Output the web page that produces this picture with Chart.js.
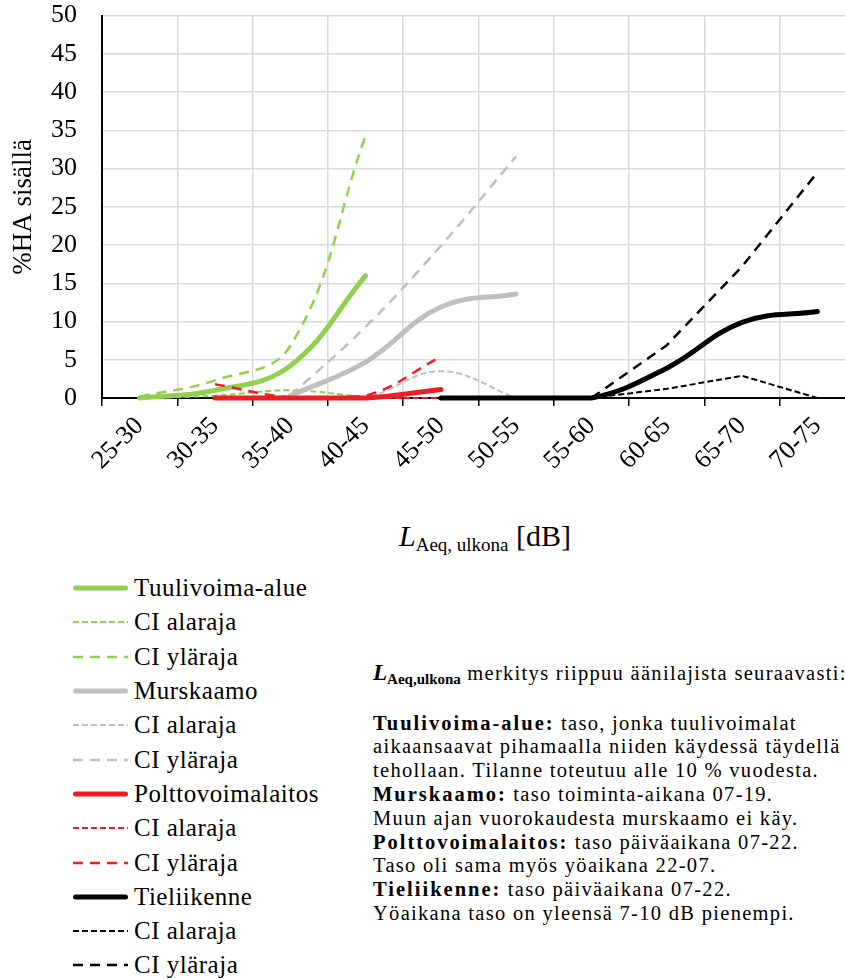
<!DOCTYPE html>
<html>
<head>
<meta charset="utf-8">
<script src="https://cdn.jsdelivr.net/npm/chart.js@4.4.1/dist/chart.umd.min.js"></script>
<style>
  html, body { margin: 0; padding: 0; background: #fff; }
  body { width: 845px; height: 979px; overflow: hidden; position: relative; font-family: "Liberation Serif", serif; color: #000; }
  #chartBox { position: absolute; left: 0; top: 0; width: 870px; height: 480px; }
  #xTitle { position: absolute; left: 485px; top: 518px; transform: translateX(-50%); white-space: nowrap; font-size: 30px; line-height: 36px; }
  #xTitle .sub { font-size: 19px; position: relative; top: 5px; }
  #legend { position: absolute; left: 73px; top: 571px; }
  .item { height: 34.3px; display: flex; align-items: center; font-size: 25px; letter-spacing: 0.5px; white-space: nowrap; }
  .item svg { width: 55px; height: 12px; margin-right: 6px; flex: none; }
  #note { position: absolute; left: 373px; top: 661px; font-size: 20.5px; line-height: 23.8px; letter-spacing: 1.3px; white-space: nowrap; }
  #note b { letter-spacing: 2px; }
  #note .L { font-style: italic; font-weight: bold; font-size: 23px; letter-spacing: 0; }
  #note .sub { font-weight: bold; font-size: 15px; letter-spacing: 0; position: relative; top: 4px; }
</style>
</head>
<body>
<div id="chartBox"><canvas id="chart" width="870" height="480"></canvas></div>
<div id="xTitle"><i>L</i><span class="sub">Aeq, ulkona</span> [dB]</div>
<div id="legend"></div>
<div id="note">
  <div><span class="L">L</span><span class="sub">Aeq,ulkona</span> merkitys riippuu äänilajista seuraavasti:</div>
  <div>&nbsp;</div>
  <div><b>Tuulivoima-alue:</b> taso, jonka tuulivoimalat</div>
  <div>aikaansaavat pihamaalla niiden käydessä täydellä</div>
  <div>tehollaan. Tilanne toteutuu alle 10 % vuodesta.</div>
  <div><b>Murskaamo:</b> taso toiminta-aikana 07-19.</div>
  <div>Muun ajan vuorokaudesta murskaamo ei käy.</div>
  <div><b>Polttovoimalaitos:</b> taso päiväaikana 07-22.</div>
  <div>Taso oli sama myös yöaikana 22-07.</div>
  <div><b>Tieliikenne:</b> taso päiväaikana 07-22.</div>
  <div>Yöaikana taso on yleensä 7-10 dB pienempi.</div>
</div>
<script>
// Noise level classes (dB)
const categories = ['25-30', '30-35', '35-40', '40-45', '45-50', '50-55', '55-60', '60-65', '65-70', '70-75'];

// %HA indoors by source, with confidence interval bounds
const windFarm       = [0,   1.0, 4.2, 16.0, null, null, null, null, null, null];
const windFarmLow    = [0,   0.3, 1.0, 0.1,  null, null, null, null, null, null];
const windFarmHigh   = [0.2, 2.3, 6.8, 34.3, null, null, null, null, null, null];

const crusher        = [null, null, 0.3, 4.7, 11.9, 13.6, null, null, null, null];
const crusherLow     = [null, null, 0,   0.1, 3.5,  0,    null, null, null, null];
const crusherHigh    = [null, null, 0.3, 9.3, 19.9, 31.6, null, null, null, null];

const powerPlant     = [null, 0,   0,   0,   1.1, null, null, null, null, null];
const powerPlantLow  = [null, 0,   0,   0,   0,   null, null, null, null, null];
const powerPlantHigh = [null, 1.8, 0.1, 0.3, 5.4, null, null, null, null, null];

const roadTraffic     = [null, null, null, null, 0, 0, 0, 3.9, 9.9, 11.3];
const roadTrafficLow  = [null, null, null, null, null, null, 0, 1.2, 2.9, 0];
const roadTrafficHigh = [null, null, null, null, null, null, 0, 6.9, 17.2, 29.5];

// Y axis range
const yMin = 0, yMax = 50, yStep = 5;

const FONT = "'Liberation Serif', serif";
Chart.defaults.font.family = FONT;
const GREEN = '#92d050', GRAY = '#bfbfbf', RED = '#ee1d23', BLACK = '#000000';

function series(label, data, color, kind, smooth) {
  const base = { label, data, borderColor: color, backgroundColor: color, pointRadius: 0, pointHoverRadius: 0,
                 fill: false, spanGaps: false, clip: false, tension: smooth === false ? 0 : 0.4 };
  if (kind === 'main') return Object.assign(base, { borderWidth: 5, borderCapStyle: 'round', borderJoinStyle: 'round', borderDash: [] });
  if (kind === 'low')  return Object.assign(base, { borderWidth: 2, borderCapStyle: 'butt', borderDash: [6, 3] });
  return Object.assign(base, { borderWidth: 2.5, borderCapStyle: 'butt', borderDash: [10, 7] });
}

const datasets = [
  series('Tuulivoima-alue', windFarm, GREEN, 'main'),
  series('CI alaraja', windFarmLow, GREEN, 'low'),
  series('CI yläraja', windFarmHigh, GREEN, 'high'),
  series('Murskaamo', crusher, GRAY, 'main'),
  series('CI alaraja', crusherLow, GRAY, 'low'),
  series('CI yläraja', crusherHigh, GRAY, 'high'),
  series('Polttovoimalaitos', powerPlant, RED, 'main'),
  series('CI alaraja', powerPlantLow, RED, 'low'),
  series('CI yläraja', powerPlantHigh, RED, 'high'),
  series('Tieliikenne', roadTraffic, BLACK, 'main'),
  series('CI alaraja', roadTrafficLow, BLACK, 'low', false),
  series('CI yläraja', roadTrafficHigh, BLACK, 'high', false)
];
// later series are painted on top
datasets.forEach((d, i) => { d.order = datasets.length - i; });

const chart = new Chart(document.getElementById('chart'), {
  type: 'line',
  data: { labels: categories, datasets },
  options: {
    responsive: false,
    animation: false,
    events: [],
    layout: { padding: { top: 14, right: 15, bottom: 0, left: 0 } },
    plugins: { legend: { display: false }, tooltip: { enabled: false } },
    scales: {
      x: {
        type: 'category',
        offset: true,
        afterFit: s => { s.height = 82; },
        grid: { offset: true, color: '#d9d9d9', lineWidth: 1.5, drawTicks: true, tickLength: 8, tickColor: '#000', tickWidth: 1.5 },
        border: { display: true, color: '#000', width: 2 },
        ticks: { autoSkip: false, minRotation: 45, maxRotation: 45, padding: 5, color: '#000', font: { family: FONT, size: 26 } }
      },
      y: {
        min: yMin, max: yMax,
        afterFit: s => { s.width = 102; },
        // invisible tick marks keep the labels clear of the axis
        grid: { color: '#d9d9d9', lineWidth: 1.5, drawTicks: true, tickLength: 25, tickColor: 'rgba(0,0,0,0)' },
        border: { display: true, color: '#000', width: 2 },
        ticks: { stepSize: yStep, padding: 0, color: '#000', font: { family: FONT, size: 26 } },
        title: { display: true, text: '%HA sisällä', color: '#000', font: { family: FONT, size: 27 }, padding: { top: 8, bottom: 0 } }
      }
    }
  }
});

// legend list built from the chart's own datasets
const legendBox = document.getElementById('legend');
chart.data.datasets.forEach(ds => {
  const row = document.createElement('div');
  row.className = 'item';
  const round = ds.borderCapStyle === 'round';
  const pad = round ? ds.borderWidth / 2 : 0;
  const dash = ds.borderDash && ds.borderDash.length ? ds.borderDash.join(' ') : 'none';
  row.innerHTML = '<svg viewBox="0 0 55 12"><line x1="' + pad + '" y1="6" x2="' + (55 - pad) + '" y2="6" stroke="' + ds.borderColor +
    '" stroke-width="' + ds.borderWidth + '" stroke-dasharray="' + dash + '" stroke-linecap="' + (round ? 'round' : 'butt') + '"/></svg>';
  const span = document.createElement('span');
  span.textContent = ds.label;
  row.appendChild(span);
  legendBox.appendChild(row);
});
</script>
</body>
</html>
